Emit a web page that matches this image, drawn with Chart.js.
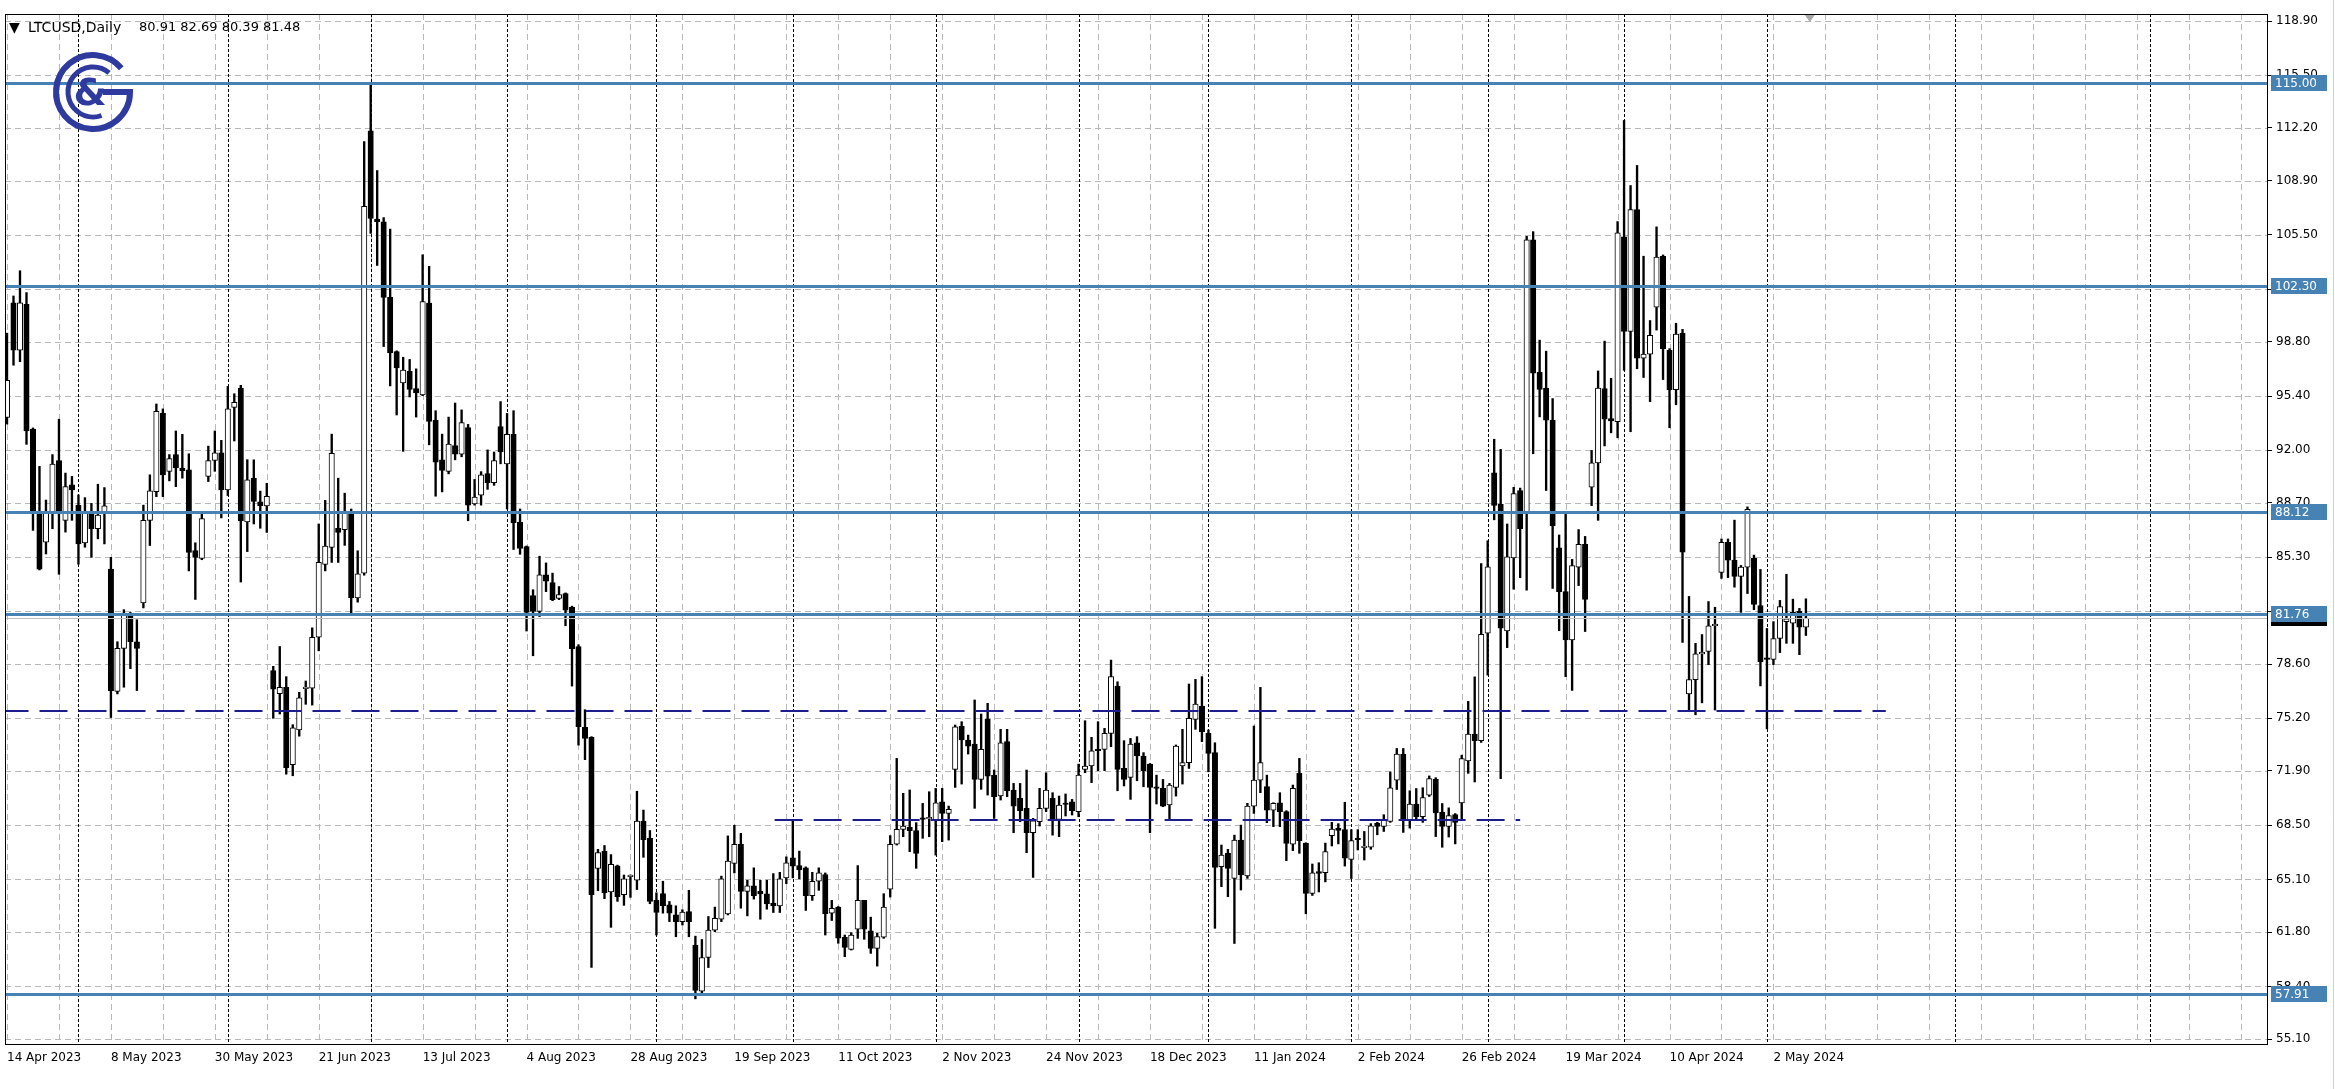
<!DOCTYPE html>
<html>
<head>
<meta charset="utf-8">
<script src="https://cdn.jsdelivr.net/npm/chart.js@4.4.1/dist/chart.umd.min.js"></script>
<style>
  html, body { margin: 0; padding: 0; background: #fff; overflow: hidden; }
  #wrap { width: 2335px; height: 1089px; }
</style>
</head>
<body>
<div id="wrap"><canvas id="chart" width="2335" height="1089"></canvas></div>
<script>
// ---- data (LTCUSD daily) ----
const dateLabels = ['14 Apr 2023', '8 May 2023', '30 May 2023', '21 Jun 2023', '13 Jul 2023', '4 Aug 2023',
  '28 Aug 2023', '19 Sep 2023', '11 Oct 2023', '2 Nov 2023', '24 Nov 2023', '18 Dec 2023', '11 Jan 2024',
  '2 Feb 2024', '26 Feb 2024', '19 Mar 2024', '10 Apr 2024', '2 May 2024'];

const opens = [
  94.06,101.24,98.28,101.14,93.32,88.14,86.24,88.14,91.35,87.61,89.83,88.56,86.20,88.03,87.08,88.03,84.55,76.88,79.58,81.70,
  80.00,82.44,87.61,89.41,94.31,90.68,91.73,90.89,90.78,85.71,85.22,90.36,91.37,91.84,89.51,94.69,95.90,87.51,90.25,88.77,
  88.51,78.20,76.74,77.14,72.30,74.48,77.06,77.09,80.28,84.84,85.91,87.11,87.03,88.11,82.75,84.30,112.02,106.48,106.32,101.58,
  98.18,96.22,96.94,95.87,95.47,101.23,93.89,91.40,90.68,92.29,91.75,93.42,88.64,89.18,90.54,89.97,93.49,91.15,93.00,87.50,
  85.97,82.89,81.90,84.20,83.70,82.72,83.01,82.15,79.69,74.63,74.01,65.80,66.86,64.32,65.95,64.15,65.28,65.06,68.76,67.68,
  63.79,64.21,63.51,62.88,62.46,63.09,60.99,58.10,60.21,61.93,62.61,62.94,66.10,67.30,64.35,64.71,64.35,64.20,63.62,63.45,
  65.20,66.46,65.97,65.83,64.08,64.99,65.41,62.99,63.37,61.48,60.72,61.98,63.79,61.89,60.78,61.49,64.50,67.32,68.24,68.37,
  68.16,68.93,68.90,68.83,69.97,69.24,72.00,74.72,73.84,73.59,71.37,75.13,71.64,70.33,73.74,70.71,70.18,69.56,68.03,68.72,
  69.56,70.18,68.87,69.89,69.97,69.35,72.00,72.21,73.25,73.25,74.26,77.22,72.06,71.50,73.67,72.84,72.33,70.91,70.81,69.77,
  70.87,72.21,72.42,75.13,75.97,74.26,73.05,65.90,66.74,65.17,67.57,65.32,69.70,71.33,70.92,69.45,69.91,69.35,67.32,71.75,
  67.38,64.22,65.59,65.52,67.84,68.32,68.22,66.36,67.69,67.10,67.12,68.64,68.43,68.74,71.33,72.96,68.85,69.82,69.04,70.39,
  71.38,69.31,68.43,69.17,69.90,72.53,74.22,73.80,80.54,90.58,88.61,80.68,85.25,89.48,88.04,105.18,96.88,95.90,93.89,85.88,
  83.14,80.12,84.67,86.11,89.68,91.21,95.87,93.99,93.79,105.37,99.45,107.08,97.77,98.02,100.96,104.16,98.27,95.80,99.33,76.73,
  77.63,79.24,79.39,81.00,84.35,86.23,85.11,84.10,84.68,85.23,82.26,78.99,78.89,80.20,81.26,81.16,81.91,80.91];

const highs = [
  99.34,101.67,103.25,101.88,93.40,90.99,88.88,91.73,93.95,90.57,90.36,89.20,89.03,88.67,89.87,89.66,85.29,80.00,82.01,81.84,
  81.38,88.56,90.46,94.90,94.59,91.73,93.21,93.00,91.78,86.20,88.10,92.26,93.21,92.62,96.00,95.54,96.07,91.41,91.40,89.44,
  89.93,78.46,79.70,77.81,74.80,76.83,77.54,80.87,87.38,88.86,93.01,90.25,89.31,88.32,85.70,111.35,114.89,109.53,106.58,105.86,
  98.23,97.83,97.69,97.10,104.25,103.53,94.48,93.01,94.08,94.96,94.53,93.62,90.17,90.66,92.02,91.89,95.05,94.31,94.48,88.32,
  86.00,83.26,85.36,84.94,84.30,83.46,83.06,82.23,79.81,75.74,74.05,66.99,67.23,66.66,66.00,65.38,65.38,70.63,69.45,68.17,
  64.27,64.99,63.72,63.45,63.20,64.42,61.55,61.34,62.78,63.37,65.31,67.83,68.50,67.99,65.05,65.83,65.05,65.05,65.47,65.55,
  66.52,68.84,66.88,65.89,65.55,65.83,65.51,63.79,63.41,61.62,61.77,65.97,63.79,62.74,61.73,64.21,67.85,72.69,70.50,70.71,
  68.66,69.87,70.60,70.81,70.81,69.70,74.78,74.99,74.15,76.35,75.47,76.14,71.96,74.51,74.51,71.12,71.12,71.96,68.93,70.81,
  71.79,70.54,70.33,70.46,70.12,72.33,75.05,74.01,74.99,74.57,78.85,77.49,73.80,73.94,74.05,73.05,72.37,71.64,71.37,71.12,
  73.53,74.51,77.35,77.64,77.81,74.47,73.67,67.26,66.99,67.88,68.51,69.87,74.72,77.14,71.64,69.91,70.54,69.41,71.02,72.69,
  67.40,66.07,66.15,67.38,68.68,68.60,69.94,68.22,68.22,68.11,68.60,68.68,69.16,71.84,73.31,73.31,70.66,70.80,70.85,71.59,
  71.48,69.86,69.59,69.23,72.89,76.26,77.80,84.90,86.33,92.69,92.06,87.38,89.68,89.63,105.41,105.70,98.90,98.21,95.24,86.69,
  88.04,85.16,87.03,86.60,91.99,96.97,98.84,96.51,106.33,112.67,108.59,109.85,104.16,100.13,106.00,104.24,98.37,99.96,99.58,82.84,
  79.90,80.45,82.52,82.16,86.44,86.44,87.62,84.78,88.45,85.43,84.53,80.83,81.26,82.59,84.23,82.67,82.09,82.69];

const lows = [
  93.64,97.33,97.55,92.37,86.98,84.50,85.50,87.08,84.23,86.87,87.61,84.86,85.92,85.29,86.45,86.13,75.25,76.73,77.15,78.31,
  76.94,82.12,86.03,89.09,89.09,90.08,89.72,90.25,84.44,82.65,85.14,90.04,90.68,87.76,89.16,92.58,83.74,85.65,87.38,87.11,
  86.85,75.20,75.47,71.70,71.60,74.08,76.08,76.03,79.43,84.44,84.97,84.97,86.04,81.76,82.48,84.17,105.59,103.58,98.50,96.03,
  94.21,91.93,95.34,94.08,95.42,92.34,89.12,89.39,90.52,91.40,91.59,87.58,88.56,88.56,89.55,89.80,91.15,88.32,85.78,85.48,
  80.67,79.12,81.58,83.14,82.57,82.64,81.00,77.22,73.52,72.61,59.59,64.40,63.90,62.10,63.73,63.48,63.98,64.47,66.49,63.58,
  61.62,62.99,62.46,61.51,62.25,61.51,57.62,57.98,59.58,61.83,62.46,62.88,65.51,63.30,62.82,63.87,62.61,63.24,63.03,63.03,
  64.84,65.20,65.14,63.16,63.79,64.42,61.62,62.53,61.10,60.26,60.68,61.41,61.35,60.47,59.67,61.41,64.00,67.26,67.78,66.84,
  65.80,67.68,67.78,66.63,67.47,67.57,70.87,71.08,72.96,69.56,70.75,70.39,68.93,70.08,70.29,68.03,68.72,66.78,65.23,68.45,
  69.35,67.88,67.78,69.08,69.14,69.03,71.79,71.17,71.92,71.92,73.42,70.66,70.96,70.12,71.29,70.91,68.03,69.83,69.66,68.87,
  70.33,71.08,72.06,74.51,73.74,71.85,62.04,64.65,64.02,61.09,64.44,65.17,69.24,70.54,68.66,68.41,68.41,66.28,66.91,66.74,
  62.95,64.10,64.32,64.95,67.20,67.33,65.94,65.16,66.95,66.32,66.99,67.90,68.11,68.68,70.74,68.05,68.32,68.85,68.68,70.30,
  67.79,67.12,67.76,67.33,68.85,71.75,71.21,73.69,77.91,87.64,71.42,79.63,83.29,84.01,83.23,91.78,94.09,89.48,83.34,80.69,
  77.81,76.95,83.52,80.64,88.53,87.61,92.27,93.09,92.78,97.01,93.16,97.11,96.56,95.05,99.53,96.43,93.41,94.85,79.95,75.67,
  75.42,76.17,78.56,75.72,83.97,84.02,83.42,81.84,83.02,82.01,77.23,74.54,78.56,79.32,79.90,79.90,79.19,80.39];

const closes = [
  96.38,98.28,101.24,93.21,88.14,84.55,88.14,91.14,88.03,89.72,89.51,86.13,88.10,87.08,87.93,88.52,76.94,79.58,81.80,80.00,
  79.58,87.61,89.45,94.44,90.46,91.48,90.89,90.72,85.60,85.29,87.72,91.35,91.84,89.51,94.59,95.01,87.57,90.15,88.80,88.53,
  89.12,77.02,77.14,72.10,74.61,76.48,77.14,80.28,84.97,85.99,91.80,86.85,88.11,82.75,84.25,107.28,106.53,106.32,101.58,98.10,
  97.16,97.02,95.82,95.60,101.31,93.81,91.26,90.73,92.39,91.75,93.73,88.56,89.06,90.46,89.97,91.35,91.89,93.00,87.45,85.85,
  81.83,81.90,84.20,83.80,82.64,82.96,81.98,79.56,74.68,73.94,64.15,66.79,64.27,66.05,64.03,65.14,65.32,68.76,67.60,63.73,
  63.03,63.45,62.99,62.46,63.05,62.46,58.15,60.21,61.93,62.67,65.14,66.25,67.30,64.35,64.71,64.08,64.20,63.58,63.45,65.14,
  66.14,65.94,65.72,64.08,64.99,65.51,62.94,63.30,61.42,60.85,61.62,63.79,61.98,60.78,61.52,63.37,67.30,68.24,68.45,68.16,
  66.74,68.87,68.93,69.91,69.24,69.49,74.67,73.84,73.46,71.37,73.25,71.58,70.29,73.67,70.66,69.70,69.41,68.03,68.78,69.56,
  70.71,68.83,69.77,69.80,69.41,71.64,72.21,73.17,73.17,74.26,77.81,72.00,71.37,73.59,72.84,71.92,70.87,70.81,69.70,71.02,
  73.46,72.42,75.20,76.10,74.36,73.00,65.86,66.63,65.80,67.57,65.38,69.70,71.33,72.42,69.45,69.87,69.35,67.36,70.81,67.53,
  64.22,65.52,65.48,66.85,68.26,68.18,66.43,67.54,67.59,67.16,68.47,68.43,68.80,70.85,72.96,68.85,69.82,69.04,70.24,71.42,
  69.27,68.43,69.10,68.68,72.68,74.22,73.80,80.47,84.69,88.54,80.85,85.32,89.28,87.09,105.18,96.83,95.82,93.89,87.26,83.14,
  80.12,84.78,86.11,82.65,91.21,95.90,93.95,93.84,105.62,99.45,107.08,97.77,98.02,99.20,104.11,98.37,95.80,99.28,85.61,77.63,
  79.24,79.32,81.00,81.08,86.23,85.11,84.10,84.68,88.30,82.34,78.74,78.89,80.20,82.21,81.43,81.84,80.91,81.48];

const yTicks = [55.10, 58.40, 61.80, 65.10, 68.50, 71.90, 75.20, 78.60, 81.90, 85.30, 88.70, 92.00,
  95.40, 98.80, 102.10, 105.50, 108.90, 112.20, 115.50, 118.90];

// horizontal levels drawn on the chart
const levels = [115.00, 102.30, 88.12, 81.76, 57.91];
const lastPrice = 81.48;
const supportLevels = [75.68, 68.80];
const supportFrom = [-1, 118.2];
const supportTo = [289.3, 233];

// bar index of first trading day of each month (period separators)
const monthStarts = [11, 34, 56, 77, 100, 121, 143, 165, 185, 207, 228, 249, 271, 300, 330];

// ---- build datasets ----
const wickData = highs.map((h, i) => ({ x: i, y: [lows[i], h] }));
const bodyData = opens.map((o, i) => ({ x: i, y: [Math.min(o, closes[i]), Math.max(o, closes[i])] }));
const bodyColors = opens.map((o, i) => closes[i] >= o ? '#ffffff' : '#000000');

const FONT = 'DejaVu Sans';

const mtDecor = {
  id: 'mtDecor',
  beforeDraw(chart) {
    const ctx = chart.ctx;
    ctx.save();
    ctx.fillStyle = '#fff';
    ctx.fillRect(0, 0, chart.width, chart.height);
    ctx.restore();
  },
  beforeDatasetsDraw(chart) {
    const { ctx, chartArea: a, scales: { x, y } } = chart;
    ctx.save();
    ctx.lineWidth = 1;
    // grey grid
    ctx.strokeStyle = '#b8b8b8';
    ctx.setLineDash([6, 4]);
    yTicks.forEach(v => {
      const py = Math.round(y.getPixelForValue(v)) + 0.5;
      ctx.beginPath(); ctx.moveTo(a.left, py); ctx.lineTo(a.right, py); ctx.stroke();
    });
    for (let i = 0; i <= 347; i += 8) {
      const px = Math.round(x.getPixelForValue(i)) + 0.5;
      ctx.beginPath(); ctx.moveTo(px, a.top); ctx.lineTo(px, a.bottom); ctx.stroke();
    }
    // month separators
    ctx.strokeStyle = '#000';
    ctx.setLineDash([3, 2]);
    monthStarts.forEach(i => {
      const px = Math.round(x.getPixelForValue(i)) + 0.5;
      ctx.beginPath(); ctx.moveTo(px, a.top); ctx.lineTo(px, a.bottom); ctx.stroke();
    });
    ctx.restore();
  },
  afterDatasetsDraw(chart) {
    const { ctx, chartArea: a, scales: { x, y } } = chart;
    ctx.save();
    ctx.beginPath();
    ctx.rect(a.left, a.top, a.right - a.left, a.bottom - a.top);
    ctx.clip();
    // bid line
    ctx.strokeStyle = '#c0c0c0';
    ctx.lineWidth = 1;
    let py = Math.round(y.getPixelForValue(lastPrice)) + 0.5;
    ctx.beginPath(); ctx.moveTo(a.left, py); ctx.lineTo(a.right, py); ctx.stroke();
    // support dashes
    ctx.strokeStyle = '#1c1c8c';
    ctx.lineWidth = 2;
    ctx.setLineDash([28, 11]);
    supportLevels.forEach((v, k) => {
      const yy = Math.round(y.getPixelForValue(v));
      ctx.beginPath();
      ctx.moveTo(x.getPixelForValue(supportFrom[k]), yy);
      ctx.lineTo(x.getPixelForValue(supportTo[k]), yy);
      ctx.stroke();
    });
    // solid levels
    ctx.setLineDash([]);
    ctx.strokeStyle = '#4682b4';
    ctx.lineWidth = 3;
    levels.forEach(v => {
      const yy = Math.round(y.getPixelForValue(v)) + 0.5;
      ctx.beginPath(); ctx.moveTo(a.left, yy); ctx.lineTo(a.right, yy); ctx.stroke();
    });
    ctx.restore();
  },
  afterDraw(chart) {
    const { ctx, chartArea: a, scales: { x, y } } = chart;
    ctx.save();
    // frame
    ctx.strokeStyle = '#000';
    ctx.lineWidth = 1;
    ctx.strokeRect(a.left + 0.5, a.top + 0.5, a.right - a.left, a.bottom - a.top);
    ctx.strokeStyle = '#d0d0d0';
    ctx.beginPath(); ctx.moveTo(2333.5, 0); ctx.lineTo(2333.5, chart.height); ctx.stroke();

    // price labels on the axis
    ctx.font = '12px "' + FONT + '"';
    ctx.textBaseline = 'middle';
    const tag = (v, bg) => {
      const yy = Math.round(y.getPixelForValue(v));
      ctx.fillStyle = bg;
      ctx.fillRect(a.right + 4, yy - 8, 56, 16);
      ctx.fillStyle = '#fff';
      ctx.fillText(v.toFixed(2), a.right + 8, yy + 1);
    };
    tag(lastPrice, '#000');
    levels.forEach(v => tag(v, '#4682b4'));

    // header
    ctx.fillStyle = '#000';
    ctx.font = '14px "' + FONT + '"';
    ctx.fillText('\u25BC', 9, 28);
    ctx.fillText('LTCUSD,Daily', 28, 28);
    ctx.font = '13px "' + FONT + '"';
    ctx.fillText('80.91 82.69 80.39 81.48', 139, 28);

    // shift marker
    const mx = x.getPixelForValue(277.6);
    ctx.fillStyle = '#a8a8a8';
    ctx.beginPath();
    ctx.moveTo(mx - 5, a.top + 1); ctx.lineTo(mx + 5, a.top + 1); ctx.lineTo(mx, a.top + 8);
    ctx.closePath(); ctx.fill();

    // logo
    const cx = 93, cy = 92;
    ctx.strokeStyle = '#2f3a9f';
    ctx.fillStyle = '#2f3a9f';
    ctx.lineWidth = 6;
    ctx.beginPath();
    ctx.arc(cx, cy, 37, -40 * Math.PI / 180, 0, true);
    ctx.lineTo(cx + 10, cy);
    ctx.stroke();
    ctx.lineWidth = 5;
    ctx.beginPath();
    ctx.arc(cx, cy, 25, -50 * Math.PI / 180, 70 * Math.PI / 180, true);
    ctx.stroke();
    ctx.font = 'bold 38px "' + FONT + '"';
    ctx.textAlign = 'center';
    ctx.fillText('&', cx - 3, cy + 3);
    ctx.restore();
  }
};

new Chart(document.getElementById('chart'), {
  type: 'bar',
  data: {
    datasets: [
      {
        label: 'body',
        data: bodyData,
        backgroundColor: bodyColors,
        borderColor: '#000',
        borderWidth: 1,
        borderSkipped: false,
        barThickness: 5.4,
        minBarLength: 1.5,
        grouped: false,
        order: 0
      },
      {
        label: 'wick',
        data: wickData,
        backgroundColor: '#000',
        borderWidth: 0,
        barThickness: 1.7,
        grouped: false,
        order: 1
      }
    ]
  },
  options: {
    responsive: false,
    animation: false,
    devicePixelRatio: 1,
    layout: { padding: { left: 3, top: 14, right: 0, bottom: 0 } },
    plugins: { legend: { display: false }, tooltip: { enabled: false } },
    scales: {
      x: {
        type: 'linear',
        offset: false,
        min: -0.31,
        max: 348,
        grid: { display: false, drawTicks: false, offset: false },
        border: { display: false },
        afterBuildTicks: s => { s.ticks = dateLabels.map((d, k) => ({ value: k * 16 })); },
        afterFit: s => { s.height = 45; },
        ticks: {
          autoSkip: false,
          maxRotation: 0,
          align: 'start',
          padding: 7,
          color: '#000',
          font: { family: FONT, size: 12 },
          callback: v => dateLabels[Math.round(v / 16)] || ''
        }
      },
      y: {
        type: 'linear',
        position: 'right',
        min: 54.79,
        max: 119.34,
        grid: { drawOnChartArea: false, drawTicks: true, tickLength: 5, color: '#000' },
        border: { display: true, color: '#000' },
        afterBuildTicks: s => { s.ticks = yTicks.map(v => ({ value: v })); },
        afterFit: s => { s.width = 68; },
        ticks: {
          padding: 4,
          color: '#000',
          font: { family: FONT, size: 12 },
          callback: v => v.toFixed(2)
        }
      }
    }
  },
  plugins: [mtDecor]
});
</script>
</body>
</html>
